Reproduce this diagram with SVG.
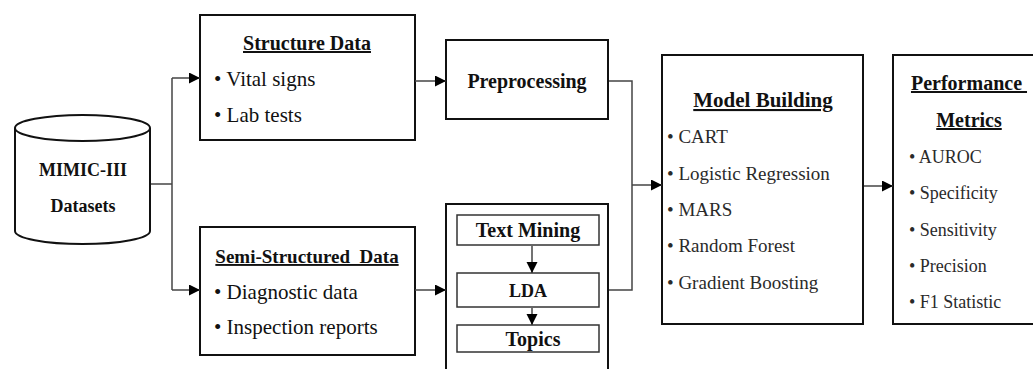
<svg xmlns="http://www.w3.org/2000/svg" width="1033" height="369" viewBox="0 0 1033 369">
<style>
.box{fill:#fff;stroke:#111;stroke-width:2}
.ibox{fill:#fff;stroke:#333;stroke-width:1.5}
.con{fill:none;stroke:#444;stroke-width:1.5}
.t{font-family:"Liberation Serif","Times New Roman",serif;fill:#111}
.b{font-weight:bold}
.u{text-decoration:underline}
.c{text-anchor:middle}
.s21{font-size:21px}
.s20{font-size:20px}
.s19{font-size:19px}
.s18{font-size:18px}
.g{fill:#2a2a2a}
</style>
<defs>
<marker id="ah" markerUnits="userSpaceOnUse" markerWidth="12" markerHeight="12" refX="11" refY="5.5" orient="auto">
<path d="M0,0 L11,5.5 L0,11 z" fill="#000"/>
</marker>
</defs>
<g id="mimic">
<path class="box" d="M15,128 V231 A67,13 0 0,0 150,231 V128"/>
<ellipse class="box" cx="82.5" cy="128" rx="67.5" ry="13"/>
<text class="t b c s18" x="83" y="176">MIMIC-III</text>
<text class="t b c s18" x="83" y="212">Datasets</text>
</g>
<g id="structure">
<rect class="box" x="200" y="15" width="215" height="125"/>
<text class="t b u c s20" x="307" y="50">Structure Data</text>
<text class="t s21" x="214" y="86">• Vital signs</text>
<text class="t s21" x="214" y="122">• Lab tests</text>
</g>
<g id="semi">
<rect class="box" x="200" y="227" width="215" height="128"/>
<text class="t b u c s19" x="307" y="263" xml:space="preserve">Semi-Structured  Data</text>
<text class="t s21" x="214" y="299">• Diagnostic data</text>
<text class="t s21" x="214" y="334">• Inspection reports</text>
</g>
<g id="preprocessing">
<rect class="box" x="446" y="40" width="162" height="79"/>
<text class="t b c s20" x="527" y="88">Preprocessing</text>
</g>
<g id="textmining">
<rect class="box" x="446" y="204" width="162" height="180"/>
<g id="tm">
<rect class="ibox" x="457" y="215" width="142" height="30"/>
<text class="t b c s20" x="528" y="237">Text Mining</text>
</g>
<g id="lda">
<rect class="ibox" x="457" y="273" width="142" height="34"/>
<text class="t b c s18" x="528" y="297">LDA</text>
</g>
<g id="topics">
<rect class="ibox" x="457" y="325" width="142" height="27"/>
<text class="t b c s20" x="533" y="346">Topics</text>
</g>
</g>
<g id="model">
<rect class="box" x="662" y="55" width="201" height="269"/>
<text class="t b u c s21" x="763" y="107">Model Building</text>
<text class="t g s19" x="667" y="143">• CART</text>
<text class="t g s19" x="667" y="180">• Logistic Regression</text>
<text class="t g s19" x="667" y="216">• MARS</text>
<text class="t g s19" x="667" y="252">• Random Forest</text>
<text class="t g s19" x="667" y="289">• Gradient Boosting</text>
</g>
<g id="performance">
<rect class="box" x="893" y="55" width="160" height="269"/>
<text class="t b u c s20" x="969" y="90" xml:space="preserve">Performance </text>
<text class="t b u c s20" x="969" y="127">Metrics</text>
<text class="t g s18" x="909" y="163">• AUROC</text>
<text class="t g s18" x="909" y="199">• Specificity</text>
<text class="t g s18" x="909" y="236">• Sensitivity</text>
<text class="t g s18" x="909" y="272">• Precision</text>
<text class="t g s18" x="909" y="308">• F1 Statistic</text>
</g>
<g id="connectors">
<path class="con" d="M151,184 H172"/>
<path class="con" d="M172,78 V290"/>
<path class="con" d="M172,78 H200" marker-end="url(#ah)"/>
<path class="con" d="M172,290 H200" marker-end="url(#ah)"/>
<path class="con" d="M415,81 H446" marker-end="url(#ah)"/>
<path class="con" d="M415,290 H446" marker-end="url(#ah)"/>
<path class="con" d="M609,81 H632 V290 H609"/>
<path class="con" d="M632,185 H662" marker-end="url(#ah)"/>
<path class="con" d="M532,246 V273" marker-end="url(#ah)"/>
<path class="con" d="M532,308 V325" marker-end="url(#ah)"/>
<path class="con" d="M864,186 H893" marker-end="url(#ah)"/>
</g>
</svg>
